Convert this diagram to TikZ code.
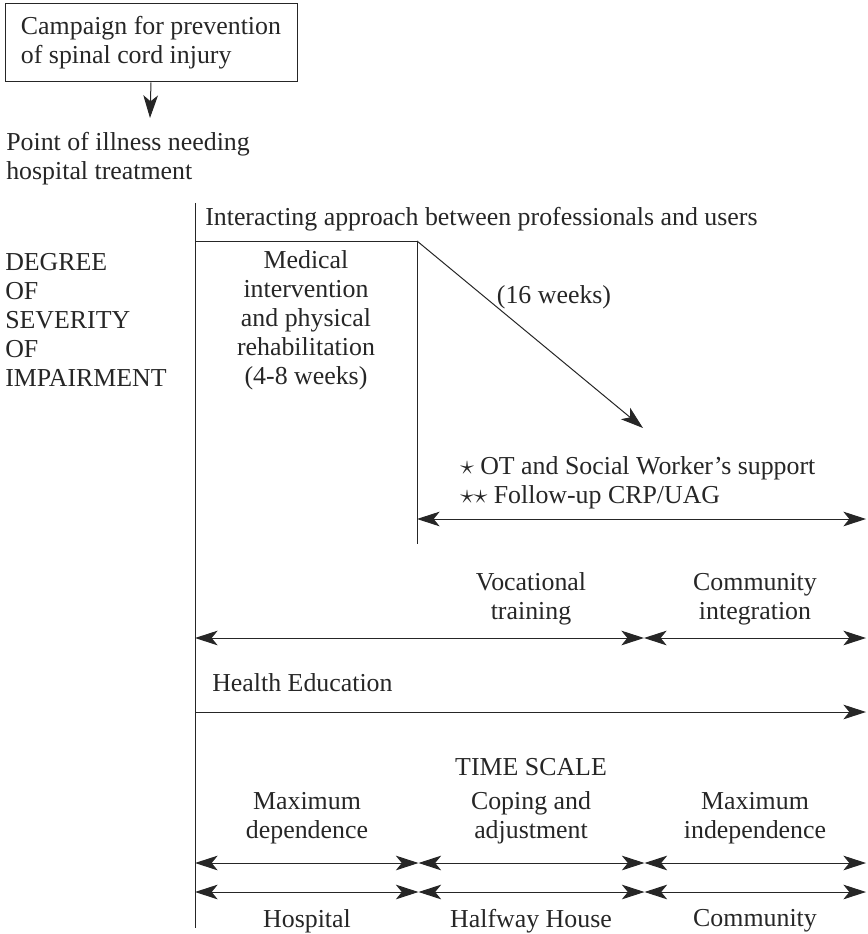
\documentclass[tikz,border=0pt]{standalone}
\usepackage{fontspec}
\setmainfont{Liberation Serif}
\usetikzlibrary{arrows.meta}
\begin{document}
\begin{tikzpicture}[x=0.75pt,y=-0.75pt,
  font=\fontsize{19.4}{21.75}\selectfont,
  every node/.style={text=black!85},
  lbl/.style={inner sep=0pt, align=center},
  lbll/.style={inner sep=0pt, align=left, anchor=west},
  ln/.style={line width=0.75pt, black!85},
  onetip/.style={ln, -{Stealth[length=17pt,width=11pt,inset=4.5pt]}},
  twotip/.style={ln, {Stealth[length=17pt,width=11pt,inset=4.5pt]}-{Stealth[length=17pt,width=11pt,inset=4.5pt]}}]
\useasboundingbox (0,0) rectangle (867,934);
% top box
\node (camp) [draw, ln, minimum width=219pt, minimum height=58.5pt, align=left, inner sep=0pt] at (151,43)
  {Campaign for prevention\\of spinal cord injury};
\coordinate (campEnd) at (150,118);
\draw[onetip] (camp.south) -- (campEnd);
\node (point) [lbll] at (6,159) {Point of illness needing\\hospital treatment};
% axis
\coordinate (axTop) at (195,203);
\coordinate (axBot) at (195,928);
\draw[ln] (axTop) -- (axBot);
\node (interact) [lbll] at (205,219) {Interacting approach between professionals and users};
\node (degree) [lbll] at (5,320) {DEGREE\\OF\\SEVERITY\\OF\\IMPAIRMENT};
\node (medical) [lbl] at (306,320) {Medical\\intervention\\and physical\\rehabilitation\\(4-8 weeks)};
% step
\coordinate (stepL) at (195,241);
\coordinate (stepC) at (417,241);
\coordinate (stepB) at (417,544);
\coordinate (diagEnd) at (643,428);
\draw[ln] (stepL) -- (stepC) -- (stepB);
\draw[onetip] (stepC) -- (diagEnd);
\node (weeks) [lbl] at (554,297) {(16 weeks)};
\node (ot) [lbll] at (460,483) {$\star$ OT and Social Worker's support\\$\star\star$ Follow-up CRP/UAG};
\coordinate (otL) at (417,519);
\coordinate (otR) at (866,519);
\draw[twotip] (otL) -- (otR);
% vocational
\node (voc) [lbl] at (531,599) {Vocational\\training};
\node (comm) [lbl] at (755,599) {Community\\integration};
\coordinate (vL) at (195,638);
\coordinate (vM) at (644,638);
\coordinate (vR) at (866,638);
\draw[twotip] (vL) -- (vM);
\draw[twotip] (vM) -- (vR);
% health education
\node (health) [lbll] at (212,683) {Health Education};
\coordinate (hL) at (195,712);
\coordinate (hR) at (866,712);
\draw[onetip] (hL) -- (hR);
% time scale
\node (time) [lbl] at (531,767) {TIME SCALE};
\node (maxdep) [lbl] at (307,818) {Maximum\\dependence};
\node (coping) [lbl] at (531,818) {Coping and\\adjustment};
\node (maxind) [lbl] at (755,818) {Maximum\\independence};
\coordinate (aL) at (195,863);
\coordinate (aM1) at (418.5,863);
\coordinate (aM2) at (644.5,863);
\coordinate (aR) at (866,863);
\draw[twotip] (aL) -- (aM1);
\draw[twotip] (aM1) -- (aM2);
\draw[twotip] (aM2) -- (aR);
\coordinate (bL) at (195,892);
\coordinate (bM1) at (418.5,892);
\coordinate (bM2) at (644.5,892);
\coordinate (bR) at (866,892);
\draw[twotip] (bL) -- (bM1);
\draw[twotip] (bM1) -- (bM2);
\draw[twotip] (bM2) -- (bR);
\node (hosp) [lbl] at (307,921) {Hospital};
\node (half) [lbl] at (531,921) {Halfway House};
\node (commu) [lbl] at (755,921) {Community};
\end{tikzpicture}
\end{document}
